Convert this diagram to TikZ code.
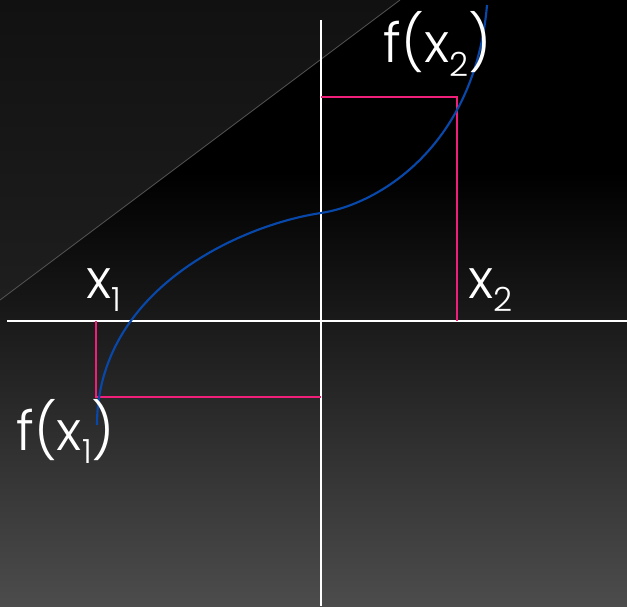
\documentclass[tikz,border=0pt]{standalone}
\usepackage{fontspec}
\setmainfont{Poppins}[UprightFont=* Light]
\usepackage{tikz}
\usetikzlibrary{calc}
\definecolor{bgdark}{RGB}{0,0,0}
\definecolor{bglight}{RGB}{76,76,76}
\definecolor{bandtop}{RGB}{17,17,17}
\definecolor{bandlow}{RGB}{30,30,30}
\definecolor{bandline}{RGB}{85,85,85}
\definecolor{curveblue}{RGB}{8,72,170}
\definecolor{guidepink}{RGB}{240,32,122}
\newcommand{\ix}[1]{\raisebox{-10pt}{\fontsize{25}{25}\selectfont #1}}

\begin{document}
\begin{tikzpicture}[x=0.75pt, y=-0.75pt,
  axis/.style={white, line width=1.5pt},
  guide/.style={guidepink, line width=1.5pt},
  lbl/.style={white, inner sep=0pt, font=\fontsize{41}{41}\selectfont}
]
\useasboundingbox (0,0) rectangle (627,606);
% background
\fill[bgdark] (0,0) rectangle (627,606);
\shade[top color=bgdark, bottom color=bglight] (0,172) rectangle (627,606);
\shade[top color=bandtop, bottom color=bandlow] (0,0) -- (400,0) -- (0,300) -- cycle;
\draw[bandline, line width=0.6pt] (0,300) -- (400,0);
% axes
\coordinate (O) at (321,321);
\draw[axis] (7,321) -- (627,321);
\draw[axis] (321,20) -- (321,606);
% guides
\coordinate (a1) at (96,321);
\coordinate (p1) at (96,397);
\coordinate (q1) at (321,397);
\coordinate (a2) at (457,321);
\coordinate (p2) at (457,97);
\coordinate (q2) at (321,97);
\draw[guide] (a1) -- (p1) -- (q1);
\draw[guide] (a2) -- (p2) -- (q2);
% curve
\coordinate (c0) at (97,425);
\coordinate (cm) at (321,213);
\coordinate (c1) at (487,5);
\draw[curveblue, line width=1.6pt] (c0) .. controls (97,290) and (240,225) .. (cm)
  .. controls (380,204) and (475,145) .. (c1);
% labels
\node[lbl, anchor=base west] (lx1) at (86,298) {x\ix{1}};
\node[lbl, anchor=base west] (lx2) at (468,298) {x\ix{2}};
\node[lbl, anchor=base west] (lf1) at (16,450) {f(x\ix{1})};
\node[lbl, anchor=base west] (lf2) at (383,63) {f(x\ix{2})};
\end{tikzpicture}
\end{document}
